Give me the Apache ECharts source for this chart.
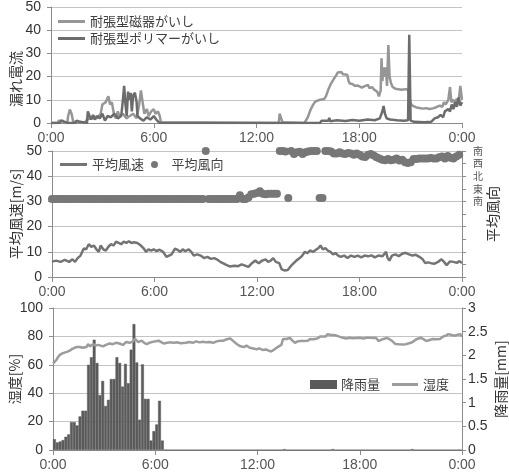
<!DOCTYPE html>
<html><head><meta charset="utf-8">
<script src="https://cdn.jsdelivr.net/npm/echarts/dist/echarts.min.js"></script>
<style>html,body{margin:0;padding:0;background:#fff}#c{width:509px;height:476px}</style>
</head><body><div id="c"></div>
<script>
// ---- data (time in hours) ----
const xTicks = ['0:00','6:00','12:00','18:00','0:00'];
const ceramic = [[0,0],[0.4,0],[0.45,1],[0.7,1],[0.75,0],[0.95,0],[1.0,3],[1.1,5.8],[1.2,4],[1.3,0.5],[1.4,1],[1.5,0.5],[1.6,1],[1.75,0.3],[2.0,0.3],[2.1,1.5],[2.3,2],[2.5,3],[2.7,2],[2.9,4],[3.0,8],[3.1,7.5],[3.2,9],[3.35,11.5],[3.45,8],[3.55,9],[3.65,8.5],[3.7,3],[3.8,2],[3.9,5],[4.0,3],[4.2,4],[4.4,2],[4.6,3],[4.8,4],[5.0,2],[5.15,8],[5.25,14],[5.35,9],[5.45,4],[5.6,6],[5.7,3],[5.85,5],[6.0,6],[6.1,4],[6.25,5],[6.35,3],[6.42,0.3],[6.5,0],[13.3,0],[13.35,4],[13.45,3.5],[13.52,0.3],[13.6,0],[14.8,0],[14.9,0.5],[15.0,2.5],[15.15,5.6],[15.3,7.8],[15.43,9.2],[15.6,9.8],[15.8,10.1],[15.95,10.3],[16.05,11.5],[16.2,14.5],[16.35,17],[16.5,18.8],[16.65,20.5],[16.75,21.8],[16.85,21.2],[16.95,22],[17.05,21],[17.15,21.2],[17.3,20.8],[17.38,18],[17.45,17],[17.6,16.8],[17.75,16],[17.9,16.2],[18.0,15.5],[18.15,15.3],[18.3,15.8],[18.4,15],[18.5,16.4],[18.6,15],[18.75,15.5],[18.85,14.5],[18.95,14],[19.05,13.5],[19.15,11.5],[19.25,14],[19.3,27.9],[19.35,18],[19.42,24],[19.48,20],[19.55,24],[19.62,16],[19.7,33.6],[19.77,20],[19.85,17.2],[19.95,15.5],[20.1,14.8],[20.3,14.5],[20.5,14.3],[20.7,14.6],[20.85,14.3],[20.95,14],[21.0,8.5],[21.1,7.5],[21.3,6.8],[21.5,6.5],[21.7,6.2],[21.9,6.4],[22.1,6.0],[22.3,6.3],[22.5,6.8],[22.7,7.5],[22.85,7],[22.95,9],[23.05,8],[23.2,10],[23.3,15.5],[23.38,9],[23.5,10],[23.6,8.5],[23.7,10.5],[23.8,9],[23.9,16],[24.0,10]];
const polymer = [[0,0],[0.5,0],[0.6,1],[0.8,0.5],[1.0,0],[1.4,0],[1.5,1],[1.7,0.5],[2.1,0],[2.15,5],[2.25,3],[2.35,1.5],[2.45,3.5],[2.55,1.5],[2.7,3],[2.85,2],[3.0,4],[3.15,1],[3.3,3],[3.5,2.5],[3.7,4],[3.9,2],[4.1,3],[4.2,10],[4.27,16],[4.35,8],[4.42,3],[4.5,13.5],[4.58,10],[4.65,13],[4.72,5],[4.8,12],[4.9,13],[5.0,9],[5.05,3],[5.2,2],[5.4,1],[5.6,2.5],[5.8,1.5],[6.0,3],[6.2,1],[6.35,0],[15.7,0],[15.8,1],[16.2,1],[16.25,2.2],[16.3,0.8],[16.7,1.2],[17.2,0.9],[17.6,1.3],[18.0,1],[18.5,1.5],[18.9,1.2],[19.2,2],[19.35,5],[19.42,7.3],[19.5,4],[19.6,2],[19.8,1.5],[20.2,1.2],[20.6,1],[20.85,1.2],[20.92,38],[21.0,1],[21.2,0.5],[21.8,0.3],[22.2,0.5],[22.4,2],[22.6,2.5],[22.75,3.5],[22.9,2.5],[23.0,5],[23.1,4.5],[23.2,6],[23.3,5],[23.4,8],[23.5,6],[23.6,9],[23.7,7],[23.8,11],[23.9,7.5],[24.0,9]];
const windSpeed = [[0,6.1],[0.25,6.5],[0.5,6],[0.75,6.8],[1.0,6],[1.2,7],[1.35,6],[1.5,7.5],[1.67,8.5],[1.86,11.3],[2.0,11],[2.15,13],[2.3,12],[2.45,12.5],[2.6,11],[2.74,10],[2.85,12.5],[3.0,11],[3.15,10.5],[3.3,12],[3.45,13],[3.6,12.5],[3.75,14],[3.9,13.5],[4.05,13],[4.2,14],[4.35,13.5],[4.5,14.2],[4.65,13.5],[4.8,13.8],[5.0,13.5],[5.2,12.5],[5.35,11.5],[5.5,10],[5.65,11],[5.8,10.5],[5.95,11],[6.1,10.3],[6.3,10.8],[6.5,10],[6.7,8],[6.85,8.5],[7.0,9],[7.2,11.3],[7.35,10.8],[7.5,10],[7.65,11],[7.8,10.2],[8.0,11],[8.15,10],[8.3,8.5],[8.5,9],[8.7,8.5],[8.9,7.5],[9.1,8],[9.3,7.2],[9.5,7.5],[9.7,6.8],[9.85,6],[10.0,5.5],[10.2,4.8],[10.4,4.2],[10.5,3.5],[10.7,4.5],[10.9,4.3],[11.1,5],[11.3,4.5],[11.5,4],[11.7,5.5],[11.9,6.5],[12.1,5.5],[12.3,6.5],[12.5,7],[12.65,6],[12.8,6.5],[12.95,7.5],[13.1,6],[13.3,5.5],[13.45,3],[13.6,2.6],[13.8,2.8],[14.0,4.5],[14.15,5.5],[14.3,6.5],[14.5,7.5],[14.65,8.5],[14.8,10],[14.95,9.5],[15.1,10.5],[15.3,10],[15.45,10.8],[15.6,11.5],[15.72,12.5],[15.85,11],[16.0,11.5],[16.15,10.5],[16.3,10],[16.45,9],[16.6,9.5],[16.75,8.5],[16.9,8],[17.1,8.5],[17.3,7.5],[17.5,8.5],[17.7,8],[17.9,8.5],[18.1,7.8],[18.3,8.5],[18.5,8.2],[18.7,8.6],[18.9,7.8],[19.1,8.5],[19.35,8.2],[19.55,10],[19.65,7.5],[19.75,6.5],[19.9,8.5],[20.1,9],[20.3,8.3],[20.5,9.2],[20.7,9.6],[20.9,9],[21.1,8.5],[21.3,8.8],[21.5,8],[21.7,7],[21.85,5.5],[22.0,5.8],[22.2,5.5],[22.4,5.3],[22.6,6],[22.8,7],[22.95,6],[23.1,4.7],[23.3,6.2],[23.5,6],[23.7,5.6],[23.85,6.3],[24.0,5.5]];
// wind direction, one value per 10-minute slot (0:00 .. 23:50), in axis units (30=南,35=東,40=北,45=西,50=南)
const windDir = [
31,31,31,31,31,31,31,31,31,31, 31,31,31,31,31,31,31,31,31,31,
31,31,31,31,31,31,31,31,31,31, 31,31,31,31,31,31,31,31,31,31,
31,31,31,31,31,31,31,31,31,31, 31,31,31,31,50,31,31,31,31,31,
31,31,31,31,31,31,32.4,31,31,31.5, 32.8,33,33.3,34,33,32.8,33,33,33,33,
50,50,49.8,31.3,50,48.8,49.5,49.7,48.8,49.5, 49.8,50,50,50,31.3,31.3,50,50,49.8,49,
49,49.5,49,48.8,49.2,49,48.5,49,48.5,47.8, 47.6,48.5,48.8,48.2,47.5,47,46.5,46.3,46.8,46.3,
46.5,47,46.2,46.5,45.5,45.2,45.5,46.8,46.8,47, 47,47,47,47.2,47,47,47.5,47.8,47,48,
47.3,47,47.8,48.5];
const dirLabels = {30:'南',35:'東',40:'北',45:'西',50:'南'};
const humidity = [[0,61],[0.1,62],[0.2,63.5],[0.3,65.5],[0.4,67],[0.55,68],[0.68,68.6],[0.85,69.3],[0.98,70],[1.1,71],[1.27,72],[1.4,72.5],[1.57,72.5],[1.75,72],[1.96,72.5],[2.06,74.6],[2.16,73],[2.26,73],[2.35,74.5],[2.5,73.5],[2.65,74],[2.8,73.5],[2.94,73],[3.1,74],[3.33,75],[3.5,74.5],[3.7,75.5],[3.9,75],[4.1,74],[4.3,76],[4.5,75.5],[4.7,76.5],[4.8,78.5],[4.9,77.5],[5.0,76],[5.2,77],[5.35,75.5],[5.5,74.6],[5.65,75.5],[5.8,76],[6.0,76.5],[6.2,77],[6.35,76],[6.5,75],[6.7,75.5],[6.85,75.8],[7.1,75.5],[7.3,75.8],[7.5,75.2],[7.8,75.5],[8.0,76],[8.2,75.5],[8.4,76.5],[8.6,75.8],[8.8,76.3],[9.0,75.8],[9.2,76],[9.4,75.5],[9.6,76.5],[9.8,77],[10.0,77],[10.2,78],[10.4,78.5],[10.6,76.5],[10.8,74.5],[11.0,73],[11.2,72.5],[11.35,73.5],[11.55,72],[11.75,71.5],[11.95,71],[12.1,71.5],[12.3,70.5],[12.5,70.8],[12.65,70],[12.8,69.4],[12.95,70.5],[13.1,71.8],[13.25,73],[13.4,74],[13.5,78.2],[13.7,78.2],[13.9,78.9],[14.05,77],[14.2,75.5],[14.35,76.5],[14.5,76.7],[14.7,76.7],[14.8,76],[14.95,77],[15.1,78.2],[15.3,78],[15.5,78.5],[15.7,80],[16.0,80],[16.1,81.6],[16.3,81],[16.5,81],[16.65,80.5],[16.8,79.8],[17.0,79],[17.2,78.5],[17.4,79],[17.6,78.7],[17.8,78.8],[18.0,79],[18.2,78.5],[18.4,79],[18.6,79],[18.8,78.8],[18.95,79],[19.1,76.7],[19.25,77.5],[19.4,78.2],[19.6,79],[19.75,78],[19.9,76.7],[20.1,74.6],[20.3,74.4],[20.5,74.3],[20.7,74.5],[20.85,75],[21.0,75.5],[21.15,76.5],[21.3,77.8],[21.45,78.5],[21.6,79],[21.75,78],[21.9,76.7],[22.1,77.5],[22.3,78.2],[22.5,78],[22.7,78.2],[22.9,80],[23.05,80.5],[23.2,81.6],[23.4,81],[23.6,80.5],[23.75,81.2],[23.9,81.6],[24.0,80]];
// rainfall [mm] per 10-minute slot (0:00 .. 23:50)
const rain = [
0.23,0.16,0.18,0.21,0.28,0.33,0.59,0.59,0.52,0.71, 0.83,0.83,1.8,1.96,2.33,1.84,1.16,1.46,0.93,1.06,
1.5,1.5,1.96,1.84,1.34,1.82,1.41,2.12,2.66,1.85, 0.64,1.81,1.08,1.08,0.2,0.4,0.54,1.04,0.2,0,
0,0,0,0,0,0,0,0,0,0, 0,0,0,0,0,0,0,0,0,0,
0,0,0,0,0,0,0,0,0,0, 0,0,0,0,0,0,0,0,0,0,
0,0.02,0,0,0,0,0,0,0,0, 0,0,0,0,0,0,0,0,0.02,0,
0,0,0,0,0,0,0,0,0,0, 0,0,0,0,0,0,0,0,0,0,
0,0,0,0,0,0,0.02,0,0,0, 0,0,0,0,0,0,0,0,0,0,
0,0,0,0];
const slotNames = rain.map((_, i) => Math.floor(i/6) + ':' + String((i%6)*10).padStart(2,'0'));

// ---- styles ----
const NUM = "'Liberation Sans Narrow','Arial Narrow','Liberation Sans',sans-serif";
const CJK = "'Noto Sans CJK JP','Noto Sans',sans-serif";
const AX = '#8c8c8c', GRID = '#c4c4c4';

function xAxis(grid) {
  return {
    type: 'value', gridIndex: grid, min: 0, max: 24, interval: 6,
    axisLine: {lineStyle: {color: AX}},
    axisTick: {show: true, length: 5, lineStyle: {color: AX}},
    splitLine: {show: false},
    axisLabel: {margin: 8, color: '#555', fontFamily: NUM, fontSize: 14,
      formatter: v => xTicks[Math.round(v/6)], showMinLabel: true, showMaxLabel: true}
  };
}
function yLeft(grid, max, step, name, gap, pad) {
  return {
    type: 'value', gridIndex: grid, position: 'left', min: 0, max: max, interval: step,
    name: name, nameLocation: 'middle', nameRotate: 90, nameGap: gap, nameMoveOverlap: false,
    nameTextStyle: {fontFamily: CJK, fontSize: 14, color: '#333', padding: pad || 0},
    axisLine: {show: true, lineStyle: {color: AX}},
    axisTick: {show: true, length: 4, lineStyle: {color: AX}},
    splitLine: {show: true, lineStyle: {color: GRID, width: 1}},
    axisLabel: {margin: 10, color: '#333', fontFamily: NUM, fontSize: 14}
  };
}

const chart = echarts.init(document.getElementById('c'), null, {renderer: 'canvas'});
chart.setOption({
  animation: false,
  backgroundColor: '#fff',
  grid: [
    {left: 51, right: 47, top: 7, height: 116, containLabel: false, outerBoundsMode: 'none'},
    {left: 52, right: 47, top: 151, height: 126, containLabel: false, outerBoundsMode: 'none'},
    {left: 53, right: 47, top: 308, height: 142, containLabel: false, outerBoundsMode: 'none'}
  ],
  xAxis: [xAxis(0), xAxis(1), xAxis(2),
    {type: 'category', gridIndex: 2, data: slotNames, boundaryGap: true, show: false,
      axisTick: {show: false}, axisLabel: {show: false}}],
  yAxis: [
    yLeft(0, 50, 10, '漏れ電流', 28, [0, 28, 0, 0]),
    yLeft(1, 50, 10, '平均風速[m/s]', 29),
    {type: 'value', gridIndex: 1, position: 'right', min: 0, max: 50, interval: 5,
      name: '平均風向', nameLocation: 'middle', nameRotate: 90, nameGap: 24, nameMoveOverlap: false,
      nameTextStyle: {fontFamily: CJK, fontSize: 14, color: '#333'},
      axisLine: {show: true, lineStyle: {color: AX}},
      axisTick: {show: true, length: 4, lineStyle: {color: AX}},
      splitLine: {show: false},
      axisLabel: {margin: 11, interval: 0, color: '#555', fontFamily: CJK, fontSize: 10,
        formatter: v => dirLabels[v] || ''}},
    yLeft(2, 100, 20, '湿度[%]', 31),
    {type: 'value', gridIndex: 2, position: 'right', min: 0, max: 3, interval: 0.5,
      name: '降雨量[mm]', nameLocation: 'middle', nameRotate: 90, nameGap: 32, nameMoveOverlap: false,
      nameTextStyle: {fontFamily: CJK, fontSize: 14, color: '#333'},
      axisLine: {show: true, lineStyle: {color: AX}},
      axisTick: {show: true, length: 4, lineStyle: {color: AX}},
      splitLine: {show: false},
      axisLabel: {margin: 6, color: '#333', fontFamily: NUM, fontSize: 14}}
  ],
  legend: [
    {data: ['耐張型磁器がいし', '耐張型ポリマーがいし'], orient: 'vertical', left: 58, top: 15, padding: 0,
      icon: 'rect', itemWidth: 27, itemHeight: 3, itemGap: 4,
      textStyle: {fontFamily: CJK, fontSize: 13, color: '#404040'}},
    {data: ['平均風速'], left: 60, top: 158, padding: 0, icon: 'rect', itemWidth: 27, itemHeight: 3,
      textStyle: {fontFamily: CJK, fontSize: 13, color: '#404040'}},
    {data: ['平均風向'], left: 151, top: 158, padding: 0, icon: 'circle', itemWidth: 24, itemHeight: 7,
      textStyle: {fontFamily: CJK, fontSize: 13, color: '#404040'}},
    {data: ['降雨量'], left: 310, top: 378, padding: 0, icon: 'rect', itemWidth: 25, itemHeight: 7,
      textStyle: {fontFamily: CJK, fontSize: 13, color: '#404040'}},
    {data: ['湿度'], left: 392, top: 378, padding: 0, icon: 'rect', itemWidth: 26, itemHeight: 3,
      textStyle: {fontFamily: CJK, fontSize: 13, color: '#404040'}}
  ],
  series: [
    {name: '耐張型磁器がいし', type: 'line', xAxisIndex: 0, yAxisIndex: 0, data: ceramic,
      showSymbol: false, symbol: 'none', color: '#969696', lineStyle: {width: 2.5, color: '#969696'}},
    {name: '耐張型ポリマーがいし', type: 'line', xAxisIndex: 0, yAxisIndex: 0, data: polymer,
      showSymbol: false, symbol: 'none', color: '#6c6c6c', lineStyle: {width: 2.5, color: '#6c6c6c'}},
    {name: '平均風速', type: 'line', xAxisIndex: 1, yAxisIndex: 1, data: windSpeed,
      showSymbol: false, symbol: 'none', color: '#747474', lineStyle: {width: 2.5, color: '#747474'}},
    {name: '平均風向', type: 'scatter', xAxisIndex: 1, yAxisIndex: 2,
      data: windDir.map((v, i) => [i/6, v]), symbolSize: 8, color: '#777777',
      itemStyle: {color: '#777777', opacity: 1}},
    {name: '降雨量', type: 'bar', xAxisIndex: 3, yAxisIndex: 4, data: rain,
      barWidth: '100%', barGap: '0%', large: false, color: '#5b5b5b',
      itemStyle: {color: '#5b5b5b', borderColor: '#5b5b5b', borderWidth: 0.5}},
    {name: '湿度', type: 'line', xAxisIndex: 2, yAxisIndex: 3, data: humidity,
      showSymbol: false, symbol: 'none', color: '#9c9c9c', lineStyle: {width: 2.5, color: '#9c9c9c'}}
  ]
});
</script></body></html>
